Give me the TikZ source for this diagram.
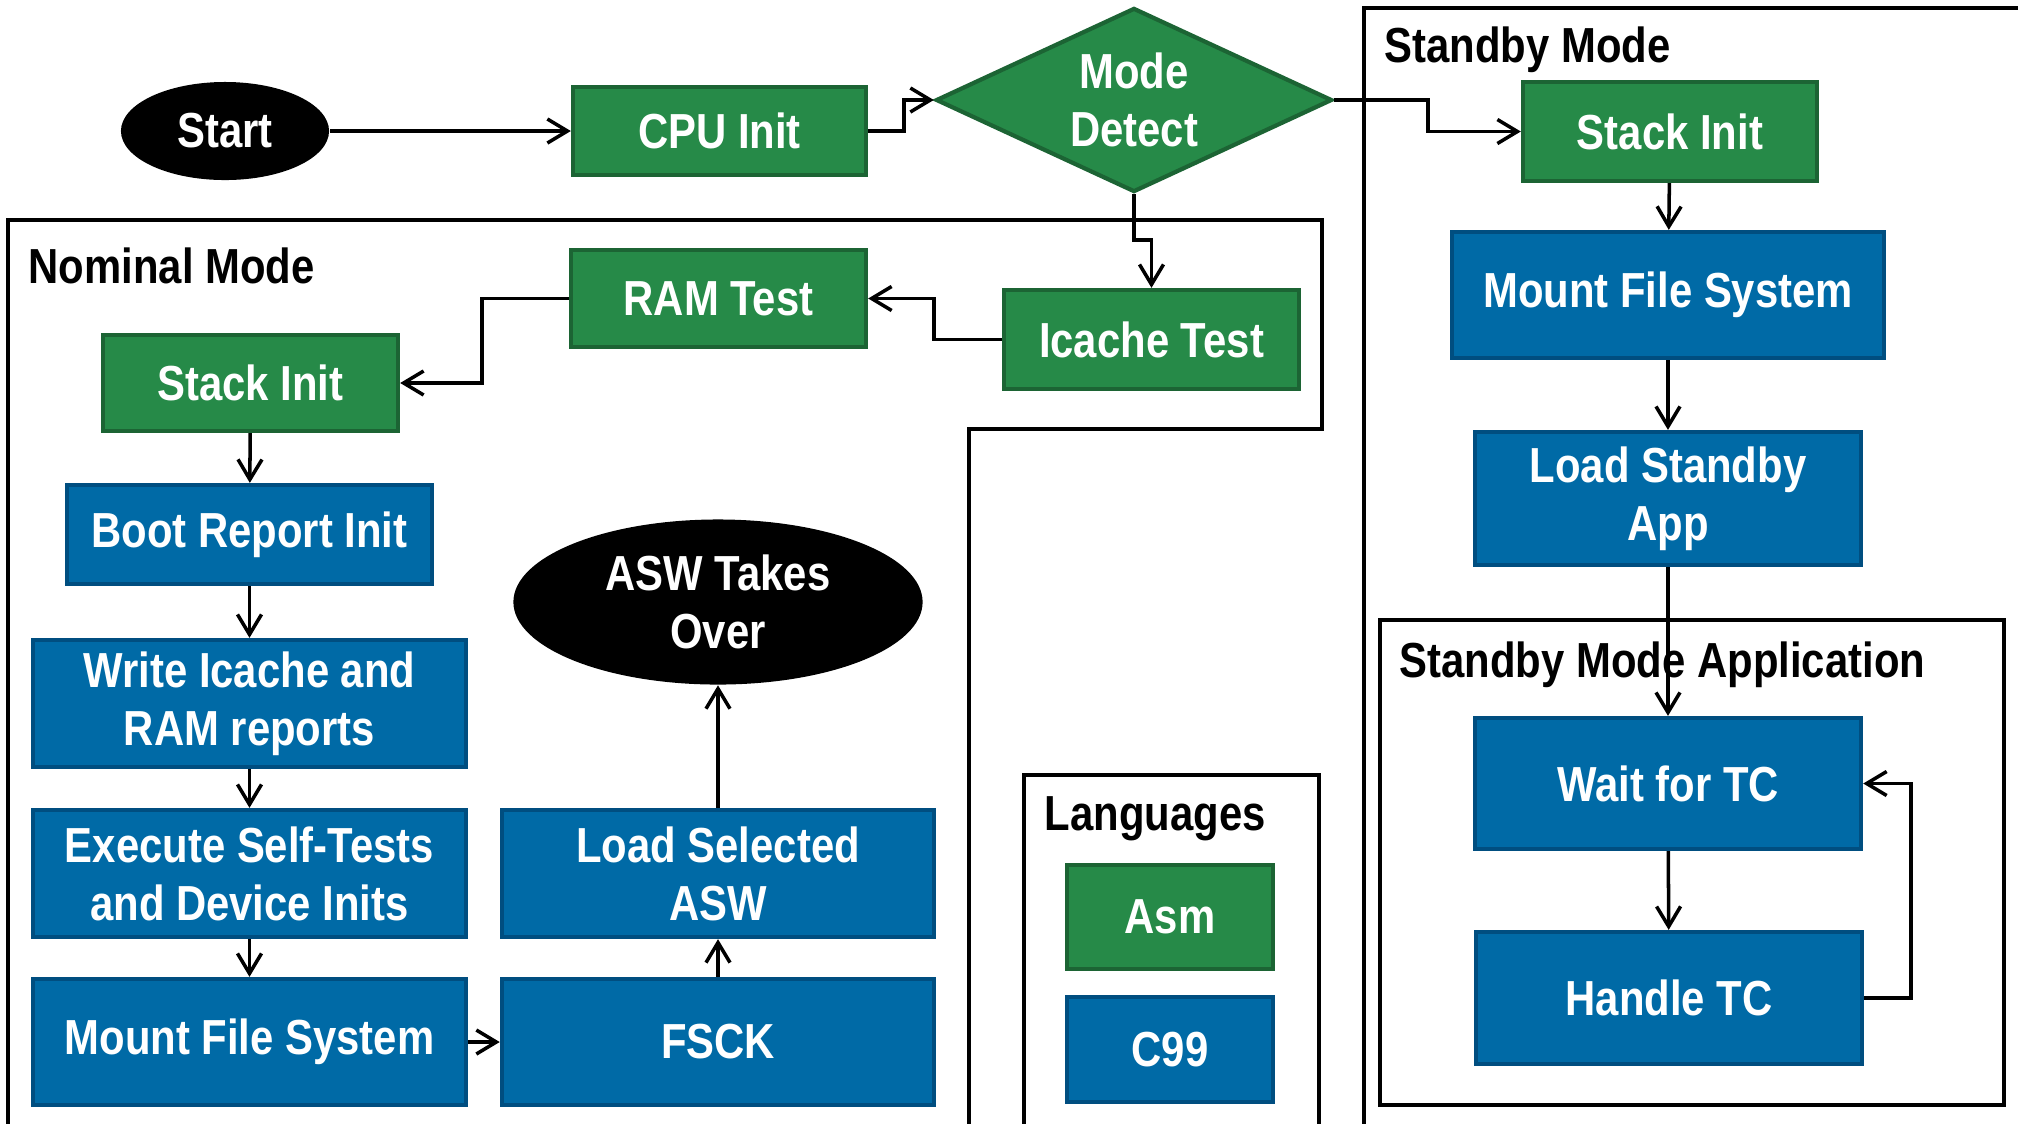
\documentclass[tikz,border=0pt]{standalone}
\usepackage{fontspec}
\setmainfont{Liberation Sans}[FakeStretch=0.85]
\usetikzlibrary{arrows.meta,shapes.geometric}
\definecolor{boxgreen}{RGB}{38,138,72}
\definecolor{boxgreenline}{RGB}{28,100,52}
\definecolor{boxblue}{RGB}{0,106,166}
\definecolor{boxblueline}{RGB}{0,78,128}
\tikzset{
  asmbox/.style = {draw=boxgreenline, fill=boxgreen, line width=1.2pt, rectangle,
                   text=white, align=center, inner sep=0pt},
  cbox/.style   = {draw=boxblueline, fill=boxblue, line width=1.2pt, rectangle,
                   text=white, align=center, inner sep=0pt},
  term/.style   = {ellipse, fill=black, text=white, align=center, inner sep=0pt},
  decide/.style = {diamond, aspect=2.15, draw=boxgreenline, fill=boxgreen, line width=1.2pt,
                   text=white, align=center, inner sep=0pt},
  wh/.style 2 args = {minimum width=#1cm, minimum height=#2cm},
  sig/.style    = {-{Straight Barb[length=2mm,width=2.4mm]}, line width=1pt},
  frame/.style  = {line width=1.3pt},
  title/.style  = {anchor=west, inner sep=0pt},
}

\begin{document}
\begin{tikzpicture}[x=0.01cm,y=-0.01cm,font=\fontsize{14}{16.5}\selectfont\bfseries]
\clip (0,0) rectangle (2018,1123);
% mode frames
\draw[frame] (8,1140) -- (8,220) -- (1322,220) -- (1322,429) -- (969,429) -- (969,1140);
\draw[frame] (1364,1140) -- (1364,8) -- (2040,8);
\draw[frame] (1380,620) rectangle (2004,1105);
\draw[frame] (1024,1140) -- (1024,775) -- (1319,775) -- (1319,1140);
\node[title] (nomlbl) at (28,266) {Nominal Mode};
\node[title] (stbylbl) at (1384,50) {Standby Mode};
\node[title] (applbl) at (1399,665) {Standby Mode Application};
\node[title] (langlbl) at (1044,819) {Languages};

% boot
\node[term, wh={2.08}{0.98}] (start) at (225,131) {Start};
\node[asmbox, wh={2.93}{0.88}] (cpu) at (719.5,131) {CPU Init};
\node[decide, wh={3.96}{1.84}] (mode) at (1134,100) {Mode\\Detect};

% nominal
\node[asmbox, wh={2.95}{0.99}] (icache) at (1151.5,339.5) {Icache Test};
\node[asmbox, wh={2.95}{0.97}] (ram) at (718.5,298.5) {RAM Test};
\node[asmbox, wh={2.95}{0.96}] (nstack) at (250.5,383) {Stack Init};
\node[cbox, wh={3.65}{0.99}] (boot) at (249.5,534.5) {Boot Report Init};
\node[cbox, wh={4.33}{1.27}] (report) at (249.5,703.5) {Write Icache and\\RAM reports};
\node[cbox, wh={4.33}{1.27}] (selftest) at (249.5,873.5) {Execute Self-Tests\\and Device Inits};
\node[cbox, wh={4.33}{1.26}] (nmount) at (249.5,1042) {Mount File System};
\node[cbox, wh={4.32}{1.26}] (fsck) at (718,1042) {FSCK};
\node[cbox, wh={4.32}{1.27}] (loadasw) at (718,873.5) {Load Selected\\ASW};
\node[term, wh={4.09}{1.65}] (asw) at (718,602) {ASW Takes\\Over};

% standby
\node[asmbox, wh={2.94}{0.99}] (sstack) at (1670,131.5) {Stack Init};
\node[cbox, wh={4.32}{1.26}] (smount) at (1668,295) {Mount File System};
\node[cbox, wh={3.86}{1.33}] (sload) at (1668,498.5) {Load Standby\\App};
\node[cbox, wh={3.86}{1.31}] (wait) at (1668,783.5) {Wait for TC};
\node[cbox, wh={3.86}{1.32}] (handle) at (1669,998) {Handle TC};

% languages
\node[asmbox, wh={2.06}{1.04}] (asm) at (1170,917) {Asm};
\node[cbox, wh={2.06}{1.05}] (c99) at (1170,1049.5) {C99};

% flow
\draw[sig] (start) -- (cpu);
\draw[sig] (cpu.east) -- ++(36,0) |- (mode.west);
\draw[sig] (mode.east) -- ++(94,0) |- (sstack.west);
\draw[sig] (mode.south) -- ++(0,46) -| (icache.north);
\draw[sig] (icache.west) -- ++(-68,0) |- (ram.east);
\draw[sig] (ram.west) -- ++(-87,0) |- (nstack.east);
\draw[sig] (nstack) -- (boot);
\draw[sig] (boot) -- (report);
\draw[sig] (report) -- (selftest);
\draw[sig] (selftest) -- (nmount);
\draw[sig] (nmount) -- (fsck);
\draw[sig] (fsck) -- (loadasw);
\draw[sig] (loadasw) -- (asw);
\draw[sig] (sstack) -- (smount);
\draw[sig] (smount) -- (sload);
\draw[sig] (sload) -- (wait);
\draw[sig] (wait) -- (handle);
\draw[sig] (handle.east) -- ++(47,0) |- (wait.east);
\end{tikzpicture}
\end{document}
